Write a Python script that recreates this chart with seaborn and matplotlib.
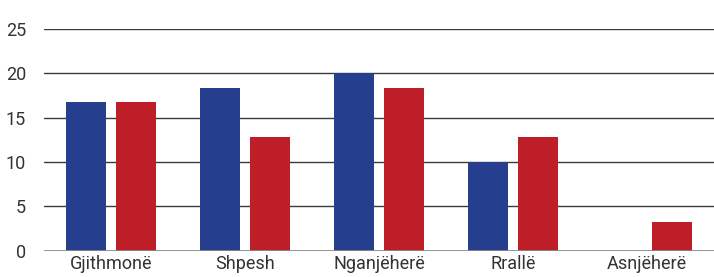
import pandas as pd
import matplotlib.pyplot as plt
import seaborn as sns

categories = ["Gjithmonë", "Shpesh", "Nganjëherë", "Rrallë", "Asnjëherë"]
series_names = ["Seria 1", "Seria 2"]
blue_values = [16.8, 18.3, 20.0, 10.0, 0.0]
red_values = [16.8, 12.8, 18.3, 12.8, 3.2]
y_ticks = [0, 5, 10, 15, 20, 25]

df = pd.DataFrame({
    "category": categories * 2,
    "series": [series_names[0]] * len(categories) + [series_names[1]] * len(categories),
    "value": blue_values + red_values,
})

sns.set_style("white")
plt.rcParams["font.family"] = ["Roboto", "DejaVu Sans"]

fig = plt.figure(figsize=(7.14, 2.77), dpi=100)
ax = fig.add_axes([0.062, 0.095, 0.938, 0.80])

sns.barplot(data=df, x="category", y="value", hue="series",
            palette=["#253F8E", "#BE1E28"], width=0.75, gap=0.2,
            saturation=1, legend=False, linewidth=0, ax=ax, zorder=3)

ax.set_ylim(0, 25)
ax.set_yticks(y_ticks)
ax.set_xlim(-0.5, len(categories) - 0.5)
for t in y_ticks[1:]:
    ax.axhline(t, color="#3a3a3a", lw=1.0, zorder=1)
ax.axhline(0, color="#8a8a8a", lw=2.0, zorder=4)

for side in ["top", "right", "left", "bottom"]:
    ax.spines[side].set_visible(False)
ax.tick_params(axis="both", length=0, colors="#333333")
ax.tick_params(axis="y", pad=13, labelsize=13)
ax.tick_params(axis="x", pad=3, labelsize=13)
ax.set_xlabel("")
ax.set_ylabel("")

fig.savefig("out.png", dpi=100)
